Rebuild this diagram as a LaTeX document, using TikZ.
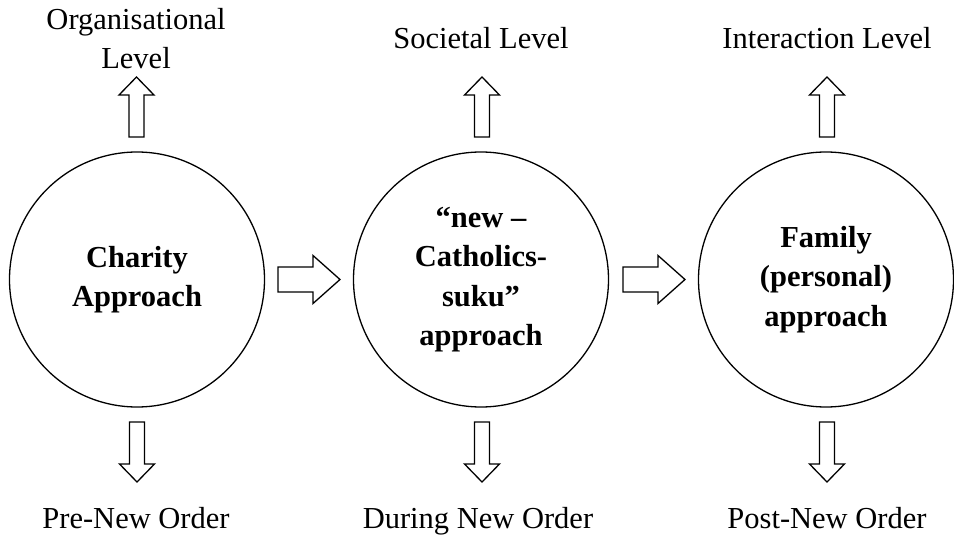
\documentclass[tikz,border=0pt]{standalone}
\usepackage{fontspec}
\setmainfont{Liberation Serif}
\usetikzlibrary{calc}

\tikzset{
  % one approach in the sequence
  stage/.style={circle, draw, line width=1.3pt, minimum size=255pt, inner sep=0pt,
    align=center, font=\fontsize{30.5}{39.5}\selectfont\bfseries},
  % level / period captions
  caption/.style={align=center, inner sep=0pt, font=\fontsize{30.5}{39}\selectfont},
  % outlined block arrow: #1 half shaft width, #2 head length, #3 half head width
  blockarrow/.style n args={3}{draw, line width=1.3pt, line join=miter,
    to path={
      coordinate (ba-h) at ($(\tikztotarget)!#2!(\tikztostart)$)
      ($(\tikztostart)!#1!90:(\tikztotarget)$)
      -- ($(ba-h)!#1!-90:(\tikztostart)$)
      -- ($(ba-h)!#3!-90:(\tikztostart)$)
      -- (\tikztotarget)
      -- ($(ba-h)!#3!90:(\tikztostart)$)
      -- ($(ba-h)!#1!90:(\tikztostart)$)
      -- ($(\tikztostart)!#1!-90:(\tikztotarget)$)
      -- cycle}},
  vblock/.style={blockarrow={7.5pt}{18pt}{17.5pt}},
  hblock/.style={blockarrow={12.5pt}{27pt}{24pt}}
}

\begin{document}
\begin{tikzpicture}[x=1pt, y=-1pt]
  \useasboundingbox (0,0) rectangle (954,535);

  % the three approaches
  \node[stage] (c1) at (137,279.5) {Charity\\Approach};
  \node[stage] (c2) at (481,279.5) {``new --\\Catholics-\\suku''\\approach};
  \node[stage] (c3) at (826,279.5) {Family\\(personal)\\approach};

  % levels
  \node[caption, anchor=south] (l1) at (136,69) {Organisational\\Level};
  \node[caption, anchor=base] (l2) at (481,49) {Societal Level};
  \node[caption, anchor=base] (l3) at (827,49) {Interaction Level};

  % periods
  \node[caption, anchor=base] (p1) at (136,528) {Pre-New Order};
  \node[caption, anchor=base] (p2) at (478,528) {During New Order};
  \node[caption, anchor=base] (p3) at (827,528) {Post-New Order};

  % arrow end points
  \coordinate (u1a) at (136.5,137); \coordinate (u1b) at (136.5,77);
  \coordinate (u2a) at (482,137);   \coordinate (u2b) at (482,77);
  \coordinate (u3a) at (827,137);   \coordinate (u3b) at (827,77);
  \coordinate (d1a) at (137,422);   \coordinate (d1b) at (137,482);
  \coordinate (d2a) at (482,422);   \coordinate (d2b) at (482,482);
  \coordinate (d3a) at (827,422);   \coordinate (d3b) at (827,482);
  \coordinate (r1a) at (278,279.5); \coordinate (r1b) at (340,279.5);
  \coordinate (r2a) at (623,279.5); \coordinate (r2b) at (685,279.5);

  % upward arrows to the levels
  \draw[vblock] (u1a) to (u1b);
  \draw[vblock] (u2a) to (u2b);
  \draw[vblock] (u3a) to (u3b);

  % downward arrows to the periods
  \draw[vblock] (d1a) to (d1b);
  \draw[vblock] (d2a) to (d2b);
  \draw[vblock] (d3a) to (d3b);

  % transitions between approaches
  \draw[hblock] (r1a) to (r1b);
  \draw[hblock] (r2a) to (r2b);
\end{tikzpicture}
\end{document}
